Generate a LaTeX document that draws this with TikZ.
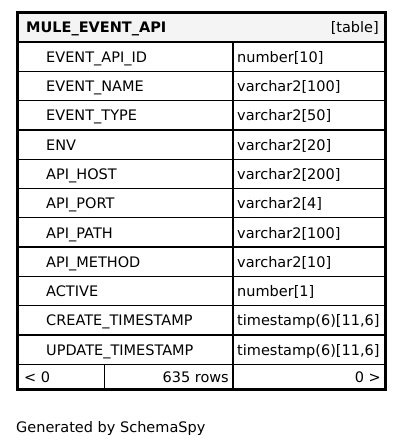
\documentclass[tikz,border=0pt]{standalone}
\usepackage{fontspec}
\setmainfont{DejaVu Sans}
\begin{document}
\begin{tikzpicture}[x=1pt,y=-1pt,
  txt/.style={inner sep=0pt, font=\fontsize{14.5}{17}\selectfont},
  ttl/.style={inner sep=0pt, font=\fontsize{14.5}{17}\selectfont\bfseries},
  thin/.style={line width=1.3pt},
  outer/.style={line width=3pt}]
\useasboundingbox (0,0) rectangle (404,447);
\definecolor{hdr}{HTML}{F4F4F4}
\fill[hdr] (17,12) rectangle (386,42);
% grid
\foreach \k in {0,...,11} {
  \draw[thin] (17,{42+29.3*\k}) -- (386,{42+29.3*\k});
}
\draw[thin] (233,42) -- (233,389);
\draw[thin] (104.5,364.3) -- (104.5,389);
\draw[outer] (17.5,12.5) rectangle (385.5,389.5);
% header
\node[ttl, anchor=base west] (title) at (26,32.5) {MULE\_EVENT\_API};
\node[txt, anchor=base east] (kind) at (379,32.5) {[table]};
% rows
\foreach \n/\t [count=\i from 0] in {EVENT\_API\_ID/number[10], EVENT\_NAME/varchar2[100], EVENT\_TYPE/varchar2[50], ENV/varchar2[20], API\_HOST/varchar2[200], API\_PORT/varchar2[4], API\_PATH/varchar2[100], API\_METHOD/varchar2[10], ACTIVE/number[1], CREATE\_TIMESTAMP/{timestamp(6)[11,6]}, UPDATE\_TIMESTAMP/{timestamp(6)[11,6]}} {
  \node[txt, anchor=base west] (name\i) at (46,{42+29.3*\i+20.2}) {\n};
  \node[txt, anchor=base west] (type\i) at (237,{42+29.3*\i+20.2}) {\t};
}
% footer
\node[txt, anchor=base west] (prev) at (24,382) {< 0};
\node[txt, anchor=base east] (rows) at (229,382) {635 rows};
\node[txt, anchor=base east] (next) at (381,382) {0 >};
\node[txt, anchor=base west] (gen) at (16,432) {Generated by SchemaSpy};
\end{tikzpicture}
\end{document}
